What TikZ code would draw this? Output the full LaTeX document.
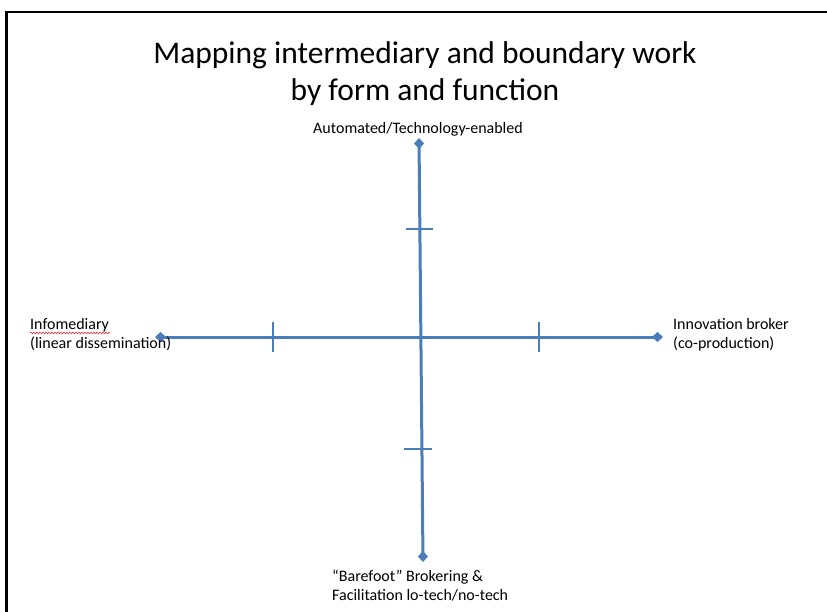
\documentclass[tikz,border=0pt]{standalone}
\usepackage{fontspec}
\setmainfont{Carlito}
\usetikzlibrary{arrows.meta,decorations.pathmorphing}
\definecolor{AxisBlue}{HTML}{4A7EBB}
\definecolor{SpellRed}{HTML}{E8323C}

\begin{document}
\begin{tikzpicture}[x=1pt,y=-1pt,
  axisline/.style={AxisBlue,line width=3pt,
    {Diamond[length=11pt,width=10pt]}-{Diamond[length=11pt,width=10pt]}},
  axistick/.style={AxisBlue,line width=2pt},
  axislabel/.style={inner sep=0pt,align=left,font=\fontsize{16}{18.5}\selectfont}]
\path[use as bounding box] (0,0) rectangle (827,612);
% frame
\draw[line width=2.5pt] (6.5,612) -- (6.5,12) -- (828,12);
% title (base = last line)
\node[anchor=base,align=center,inner sep=0pt,font=\fontsize{31.5}{37}\selectfont]
  (title) at (425,101) {Mapping intermediary and boundary work\\by form and function};
% axis ends
\coordinate (top) at (419,138);
\coordinate (bottom) at (423,562);
\coordinate (west) at (155,337);
\coordinate (east) at (663,337);
\draw[axisline] (bottom) -- (top);
\draw[axisline] (west) -- (east);
% ticks
\draw[axistick] (406,229) -- (433,229);
\draw[axistick] (404,449) -- (432,449);
\draw[axistick] (273,322) -- (273,352);
\draw[axistick] (539,322) -- (539,352);
% labels
\node[axislabel,anchor=base] (techlabel) at (418,134) {Automated/Technology-enabled};
\node[axislabel,anchor=base west] (infolabel) at (30,348)
  {Infomediary\\(linear dissemination)};
\node[axislabel,anchor=base west] (brokerlabel) at (673,348)
  {Innovation broker\\(co-production)};
\node[axislabel,anchor=base west] (barefootlabel) at (332,600)
  {“Barefoot” Brokering \&\\Facilitation lo-tech/no-tech};
% spell-check squiggle
\draw[SpellRed,line width=0.6pt,decorate,
  decoration={snake,amplitude=0.8pt,segment length=3pt}]
  (30,333) -- (110,333);
\end{tikzpicture}
\end{document}
